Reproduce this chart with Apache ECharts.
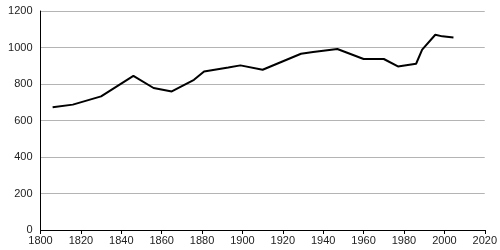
<!DOCTYPE html>
<html><head><meta charset="utf-8">
<script src="https://cdn.jsdelivr.net/npm/echarts@6/dist/echarts.min.js"></script>
<style>html,body{margin:0;padding:0;background:#fff}#c{width:500px;height:250px}</style>
</head><body><div id="c"></div>
<script>
var years = [1806,1816,1830,1846,1856,1865,1876,1881,1893,1899,1910,1929,1935,1941,1947,1960,1970,1977,1986,1989,1995.5,1999,2004.5];
var values = [672,687,732,845,778,759,823,869,890,902,878,966,975,984,992,937,937,896,911,988,1070,1061,1055];
var chart = echarts.init(document.getElementById('c'));
var data = years.map(function(y,i){return [y, values[i]];});
var fmt = function(v){return String(v);};
chart.setOption({
  animation:false,
  grid:{left:40.5,right:9.5,top:11,bottom:20,containLabel:false},
  xAxis:{type:'value',min:1800,max:2020,interval:20,
    axisLine:{show:true,lineStyle:{color:'#000',width:1}},
    axisTick:{show:true,length:4,lineStyle:{color:'#000'}},
    axisLabel:{color:'#222',fontSize:11,fontFamily:'Liberation Sans, Arial',margin:5,formatter:fmt},
    splitLine:{show:false}},
  yAxis:{type:'value',min:0,max:1200,interval:200,
    axisLine:{show:true,lineStyle:{color:'#000',width:1}},
    axisTick:{show:false},
    axisLabel:{color:'#222',fontSize:11,fontFamily:'Liberation Sans, Arial',margin:8,formatter:fmt},
    splitLine:{show:true,lineStyle:{color:'#b4b4b4',width:1}}},
  series:[{type:'line',data:data,showSymbol:false,lineStyle:{color:'#000',width:2},z:3}]
});
</script></body></html>
